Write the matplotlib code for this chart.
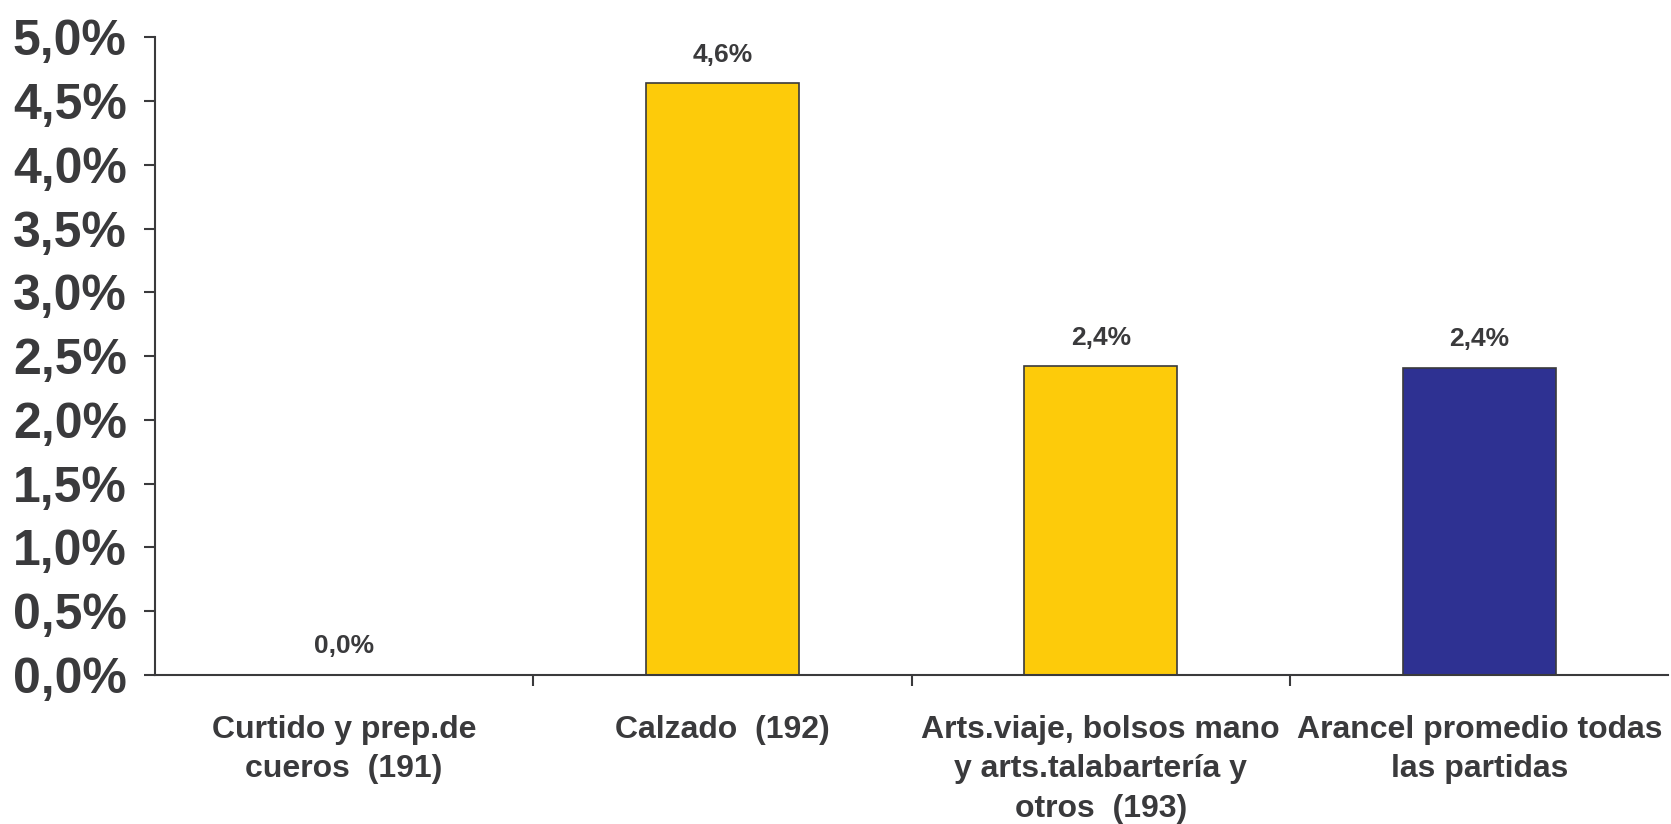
import matplotlib.pyplot as plt
from matplotlib.ticker import FuncFormatter

categories = ['Curtido y prep.de\ncueros  (191)',
              'Calzado  (192)',
              'Arts.viaje, bolsos mano\ny arts.talabartería y\notros  (193)',
              'Arancel promedio todas\nlas partidas']
values = [0.0, 4.64, 2.42, 2.41]
labels = ['0,0%', '4,6%', '2,4%', '2,4%']
colors = ['#FDCB0A', '#FDCB0A', '#FDCB0A', '#2E3192']

text_color = '#3a3a3c'
plt.rcParams['font.family'] = ['Liberation Sans', 'DejaVu Sans']
plt.rcParams['font.weight'] = 'bold'

fig = plt.figure(figsize=(16.71, 8.24), dpi=100)
ax = fig.add_axes([0.0925, 0.181, 0.906, 0.7737])

x = range(len(categories))
ax.bar(x, values, width=0.405, color=colors, edgecolor='#3a3a3c', linewidth=1.2, zorder=2)

for xi, v, lab in zip(x, values, labels):
    ax.annotate(lab, (xi, v), xytext=(0, 12), textcoords='offset points',
                ha='center', va='bottom', fontsize=19, fontweight='bold', color=text_color)

ax.set_xlim(-0.5, 3.5)
ax.set_ylim(0, 5)
ax.set_yticks([i * 0.5 for i in range(11)])
ax.yaxis.set_major_formatter(FuncFormatter(lambda v, p: f'{v:.1f}%'.replace('.', ',')))

ax.set_xticks(list(x))
ax.set_xticklabels(categories, fontsize=23, fontweight='bold', color=text_color, linespacing=1.4)
ax.set_xticks([0.5, 1.5, 2.5], minor=True)
ax.tick_params(axis='x', which='major', length=0, pad=29)
ax.tick_params(axis='x', which='minor', length=8, width=1.5, color='#3a3a3c', direction='out')
ax.tick_params(axis='y', length=8, width=1.5, color='#3a3a3c', pad=12,
               labelsize=36, labelcolor=text_color)
for lbl in ax.get_yticklabels():
    lbl.set_fontweight('bold')

for s in ['top', 'right']:
    ax.spines[s].set_visible(False)
for s in ['left', 'bottom']:
    ax.spines[s].set_color('#3a3a3c')
    ax.spines[s].set_linewidth(1.5)

fig.savefig('out.png', dpi=100)
